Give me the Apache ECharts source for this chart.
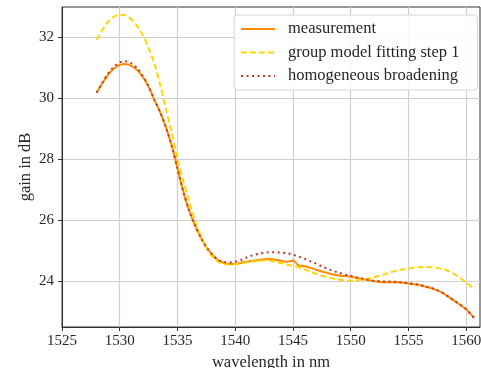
<!DOCTYPE html>
<html>
<head>
<meta charset="utf-8">
<script src="https://cdn.jsdelivr.net/npm/echarts@6/dist/echarts.min.js"></script>
<style>
  html, body { margin: 0; padding: 0; background: #fff; }
  #chart { width: 481px; height: 368px; }
</style>
</head>
<body>
<div id="chart"></div>
<script>
// Wavelength samples (nm)
const wavelength = [
  1528.0, 1528.5, 1529.0, 1529.5, 1530.0, 1530.5, 1531.0, 1531.5, 1532.0, 1532.5,
  1533.0, 1533.5, 1534.0, 1534.5, 1535.0, 1535.5, 1536.0, 1536.5, 1537.0, 1537.5,
  1538.0, 1538.5, 1539.0, 1539.5, 1540.0, 1540.5, 1541.0, 1541.5, 1542.0, 1542.5,
  1543.0, 1543.5, 1544.0, 1544.5, 1545.0, 1545.5, 1546.0, 1546.5, 1547.0, 1547.5,
  1548.0, 1548.5, 1549.0, 1549.5, 1550.0, 1550.5, 1551.0, 1551.5, 1552.0, 1552.5,
  1553.0, 1553.5, 1554.0, 1554.5, 1555.0, 1555.5, 1556.0, 1556.5, 1557.0, 1557.5,
  1558.0, 1558.5, 1559.0, 1559.5, 1560.0, 1560.5, 1560.7
];

// Measured gain (dB)
const measurement = [
  30.19, 30.50, 30.78, 30.98, 31.10, 31.13, 31.07, 30.93, 30.70, 30.38,
  29.95, 29.55, 29.05, 28.45, 27.70, 26.95, 26.33, 25.85, 25.45, 25.12,
  24.88, 24.70, 24.61, 24.57, 24.57, 24.61, 24.64, 24.67, 24.70, 24.72,
  24.73, 24.71, 24.67, 24.64, 24.68, 24.52, 24.49, 24.44, 24.38, 24.32,
  24.27, 24.22, 24.19, 24.17, 24.15, 24.11, 24.07, 24.04, 24.00, 23.98,
  23.97, 23.97, 23.97, 23.95, 23.93, 23.90, 23.87, 23.82, 23.77, 23.70,
  23.61, 23.48, 23.35, 23.22, 23.08, 22.88, 22.79
];

// Group model, fitting step 1 (dB)
const groupModel = [
  31.92, 32.25, 32.52, 32.68, 32.75, 32.72, 32.60, 32.38, 32.08, 31.65,
  31.15, 30.45, 29.65, 28.90, 28.00, 27.30, 26.63, 26.00, 25.50, 25.10,
  24.82, 24.65, 24.57, 24.55, 24.56, 24.58, 24.62, 24.65, 24.67, 24.68,
  24.67, 24.64, 24.60, 24.55, 24.50, 24.45, 24.39, 24.32, 24.25, 24.19,
  24.14, 24.09, 24.05, 24.03, 24.02, 24.03, 24.05, 24.09, 24.13, 24.18,
  24.24, 24.30, 24.35, 24.39, 24.42, 24.45, 24.46, 24.47, 24.46, 24.44,
  24.40, 24.33, 24.23, 24.10, 23.96, 23.80, 23.72
];

// Homogeneous broadening model (dB)
const homogeneous = [
  30.19, 30.52, 30.82, 31.04, 31.18, 31.22, 31.15, 31.00, 30.74, 30.40,
  29.96, 29.55, 29.05, 28.45, 27.70, 26.95, 26.33, 25.85, 25.45, 25.12,
  24.88, 24.71, 24.63, 24.62, 24.64, 24.70, 24.78, 24.85, 24.90, 24.93,
  24.95, 24.95, 24.94, 24.92, 24.87, 24.81, 24.74, 24.66, 24.58, 24.49,
  24.41, 24.34, 24.28, 24.22, 24.18, 24.13, 24.09, 24.05, 24.02, 24.00,
  23.99, 23.99, 23.98, 23.96, 23.94, 23.91, 23.88, 23.83, 23.78, 23.71,
  23.62, 23.49, 23.36, 23.23, 23.08, 22.88, 22.79
];

// Axis ticks
const xTicks = [1525, 1530, 1535, 1540, 1545, 1550, 1555, 1560];
const yTicks = [24, 26, 28, 30, 32];

const pairs = ys => wavelength.map((x, i) => [x, ys[i]]);

const serif = 'Liberation Serif';
const textColor = '#262626';

const chart = echarts.init(document.getElementById('chart'), null, { renderer: 'canvas' });

chart.setOption({
  animation: false,
  backgroundColor: '#ffffff',
  grid: {
    left: 62, right: 1, top: 7, bottom: 41,
    outerBoundsMode: 'none',
    containLabel: false,
    show: true, borderColor: '#333', borderWidth: 1, backgroundColor: 'transparent'
  },
  legend: {
    orient: 'vertical',
    left: 234, top: 15,
    padding: [5, 18, 5, 6],
    itemGap: 5.5,
    itemWidth: 34, itemHeight: 14,
    itemStyle: { opacity: 0 },
    backgroundColor: 'rgba(255,255,255,0.85)',
    borderColor: '#d6d6d6', borderWidth: 1, borderRadius: 3,
    textStyle: { fontFamily: serif, fontSize: 16.5, color: textColor, lineHeight: 18, padding: [0, 0, 0, 8] },
    data: ['measurement', 'group model fitting step 1', 'homogeneous broadening']
  },
  xAxis: {
    type: 'value',
    min: 1525, max: 1561.2,
    name: 'wavelength in nm',
    nameLocation: 'middle', nameGap: 27, nameMoveOverlap: false,
    nameTextStyle: { fontFamily: serif, fontSize: 16.5, color: textColor },
    axisLine: { show: true, lineStyle: { color: '#333', width: 1 } },
    axisTick: { show: true, inside: false, length: 4, customValues: xTicks, lineStyle: { color: '#333' } },
    axisLabel: {
      customValues: xTicks, fontFamily: serif, fontSize: 15, color: textColor, margin: 7,
      formatter: v => String(v)
    },
    splitLine: { show: true, lineStyle: { color: '#cfcfcf', width: 1.2 } }
  },
  yAxis: {
    type: 'value',
    min: 22.5, max: 33.0,
    name: 'gain in dB',
    nameLocation: 'middle', nameGap: 28, nameRotate: 90, nameMoveOverlap: false,
    nameTextStyle: { fontFamily: serif, fontSize: 16.5, color: textColor },
    axisLine: { show: true, lineStyle: { color: '#333', width: 1 } },
    axisTick: { show: true, inside: false, length: 4, customValues: yTicks, lineStyle: { color: '#333' } },
    axisLabel: {
      customValues: yTicks, fontFamily: serif, fontSize: 15, color: textColor, margin: 8,
      formatter: v => String(v)
    },
    splitLine: { show: true, lineStyle: { color: '#cfcfcf', width: 1.2 } }
  },
  series: [
    {
      name: 'measurement', type: 'line', data: pairs(measurement),
      symbol: 'none', smooth: 0.3,
      lineStyle: { color: '#ff8c00', width: 2 }, itemStyle: { color: '#ff8c00' }, z: 2
    },
    {
      name: 'group model fitting step 1', type: 'line', data: pairs(groupModel),
      symbol: 'none', smooth: 0.3,
      lineStyle: { color: '#ffd700', width: 2, type: [6, 3] }, itemStyle: { color: '#ffd700' }, z: 3
    },
    {
      name: 'homogeneous broadening', type: 'line', data: pairs(homogeneous),
      symbol: 'none', smooth: 0.3,
      lineStyle: { color: '#c0392b', width: 2, type: [2, 3.5] }, itemStyle: { color: '#c0392b' }, z: 4
    }
  ]
});
</script>
</body>
</html>
